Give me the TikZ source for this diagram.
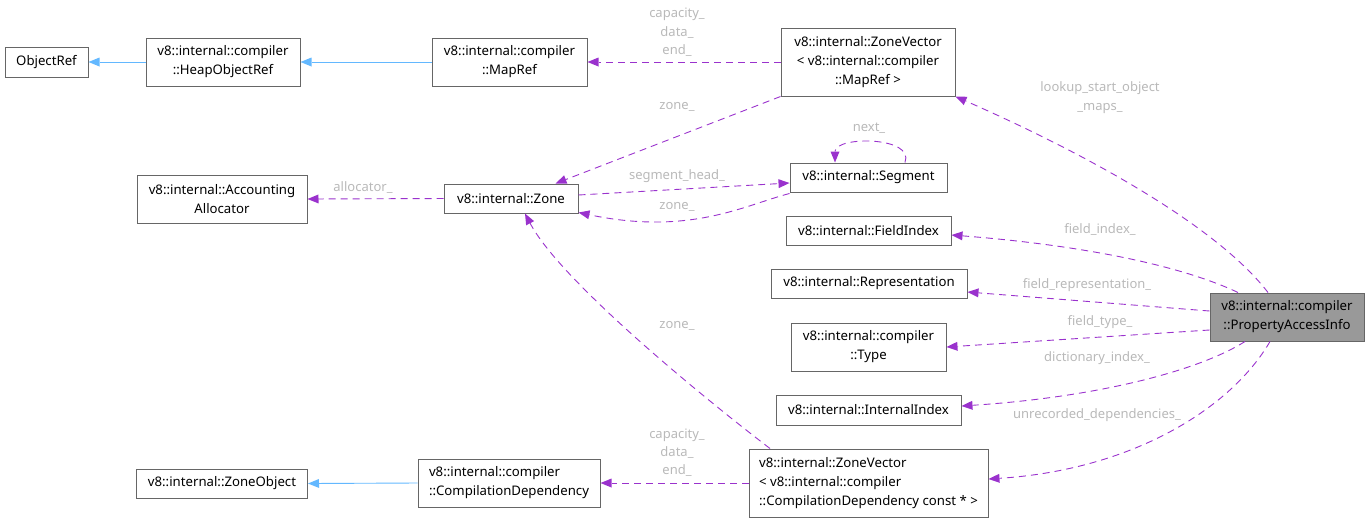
\documentclass[tikz,border=0pt]{standalone}
\usepackage{fontspec}
\setmainfont{Noto Sans}
\usetikzlibrary{arrows.meta}
\definecolor{boxgray}{HTML}{666666}
\definecolor{hlfill}{HTML}{999999}
\definecolor{edgepurple}{HTML}{9A32CD}
\definecolor{edgeblue}{HTML}{63B8FF}
\definecolor{lblgray}{RGB}{185,185,185}
\tikzset{
  box/.style={draw=boxgray, line width=1pt, inner sep=0pt, fill=white,
    font=\fontsize{13.2}{19}\selectfont, align=center},
  usesedge/.style={draw=edgepurple, line width=0.9pt, dash pattern=on 7pt off 5pt,
    -{Triangle[length=11pt,width=9pt,fill=edgepurple,line width=0pt]}},
  inhedge/.style={draw=edgeblue, line width=0.9pt,
    -{Triangle[length=11pt,width=9pt,fill=edgeblue,line width=0pt]}},
  lbl/.style={text=lblgray, font=\fontsize{13}{19}\selectfont, inner sep=0pt, align=center}
}
\begin{document}
\begin{tikzpicture}[x=1pt,y=-1pt]
\path[use as bounding box] (0,0) rectangle (1370,523);

% nodes
\node[box, minimum width=83pt, minimum height=30pt] (objref) at (46.5,62) {ObjectRef};
\node[box, minimum width=154pt, minimum height=48pt] (heap) at (223,62) {v8::internal::compiler\\::HeapObjectRef};
\node[box, minimum width=155pt, minimum height=48pt] (mapref) at (509.5,62) {v8::internal::compiler\\::MapRef};
\node[box, minimum width=174pt, minimum height=68pt] (zvm) at (868,62) {v8::internal::ZoneVector\\< v8::internal::compiler\\::MapRef >};
\node[box, minimum width=170pt, minimum height=48pt] (alloc) at (222,199) {v8::internal::Accounting\\Allocator};
\node[box, minimum width=134pt, minimum height=29pt] (zone) at (511,198.5) {v8::internal::Zone};
\node[box, minimum width=157pt, minimum height=29pt] (seg) at (868.5,177.5) {v8::internal::Segment};
\node[box, minimum width=165pt, minimum height=29pt] (fidx) at (868.5,230.5) {v8::internal::FieldIndex};
\node[box, minimum width=196pt, minimum height=29pt] (repr) at (869,283.5) {v8::internal::Representation};
\node[box, minimum width=155pt, minimum height=48pt] (type) at (868.5,347) {v8::internal::compiler\\::Type};
\node[box, minimum width=185pt, minimum height=30pt] (iidx) at (868.5,410) {v8::internal::InternalIndex};
\node[box, fill=hlfill, minimum width=154pt, minimum height=48pt] (pai) at (1287,317) {v8::internal::compiler\\::PropertyAccessInfo};
\node[box, minimum width=171pt, minimum height=29pt] (zobj) at (222,483.5) {v8::internal::ZoneObject};
\node[box, minimum width=182pt, minimum height=48pt, align=left] (cdep) at (509,483) {v8::internal::compiler\\::CompilationDependency};
\node[box, minimum width=239pt, minimum height=68pt, align=left] (zvc) at (868.5,483) {v8::internal::ZoneVector\\< v8::internal::compiler\\::CompilationDependency const * >};

% inheritance
\draw[inhedge] (heap.west) -- (objref.east);
\draw[inhedge] (mapref.west) -- (heap.east);
\draw[inhedge] (cdep.west) -- (zobj.east);

% usage edges
\draw[usesedge] (zvm.west) -- (mapref.east);
\node[lbl] (l1) at (677,14) {capacity\_};
\node[lbl] (l2) at (677,33) {data\_};
\node[lbl] (l3) at (677,51) {end\_};

\draw[usesedge] (zvm.south west) -- ([xshift=-23pt]zone.north east);
\node[lbl] (l4) at (677,107) {zone\_};

\draw[usesedge] (zone.west) -- (alloc.east);
\node[lbl] (l5) at (363,188) {allocator\_};

\draw[usesedge] ([yshift=3.5pt]zone.east) -- ([yshift=-5.5pt]seg.west);
\node[lbl] (l6) at (677,176) {segment\_head\_};

\draw[usesedge] ([yshift=-1pt]seg.south west) .. controls (745,205) and (690,236) .. ([yshift=1pt]zone.south east);
\node[lbl] (l7) at (677,207) {zone\_};

\draw[usesedge] ([xshift=36.5pt]seg.north) .. controls (915,136) and (835,136) .. ([xshift=-33.5pt]seg.north);
\node[lbl] (l8) at (869,128) {next\_};

\draw[usesedge] ([xshift=-98.5pt]zvc.north) .. controls (700,395) and (560,280) .. ([xshift=14pt]zone.south);
\node[lbl] (l9) at (677,326) {zone\_};

\draw[usesedge] (zvc.west) -- (cdep.east);
\node[lbl] (l10) at (677,435) {capacity\_};
\node[lbl] (l11) at (677,453) {data\_};
\node[lbl] (l12) at (677,471) {end\_};

\draw[usesedge] ([xshift=-19pt]pai.north) .. controls (1220,230) and (1100,160) .. (zvm.south east);
\node[lbl] (l13) at (1100,98) {lookup\_start\_object\\\_maps\_};

\draw[usesedge] ([xshift=-49pt]pai.north) .. controls (1180,265) and (1080,245) .. ([yshift=-4.5pt]fidx.east);
\node[lbl] (l14) at (1100,230) {field\_index\_};

\draw[usesedge] ([yshift=6pt]pai.west) -- ([yshift=-8.5pt]repr.east);
\node[lbl] (l15) at (1087,285) {field\_representation\_};

\draw[usesedge] ([yshift=-13pt]pai.west) -- (type.east);
\node[lbl] (l16) at (1100,322) {field\_type\_};

\draw[usesedge] ([xshift=-42pt]pai.south) .. controls (1200,370) and (1100,397) .. ([yshift=4pt]iidx.east);
\node[lbl] (l17) at (1097,358) {dictionary\_index\_};

\draw[usesedge] ([xshift=-17pt]pai.south) .. controls (1230,410) and (1130,470) .. ([yshift=4pt]zvc.east);
\node[lbl] (l18) at (1097,415) {unrecorded\_dependencies\_};

\end{tikzpicture}
\end{document}
